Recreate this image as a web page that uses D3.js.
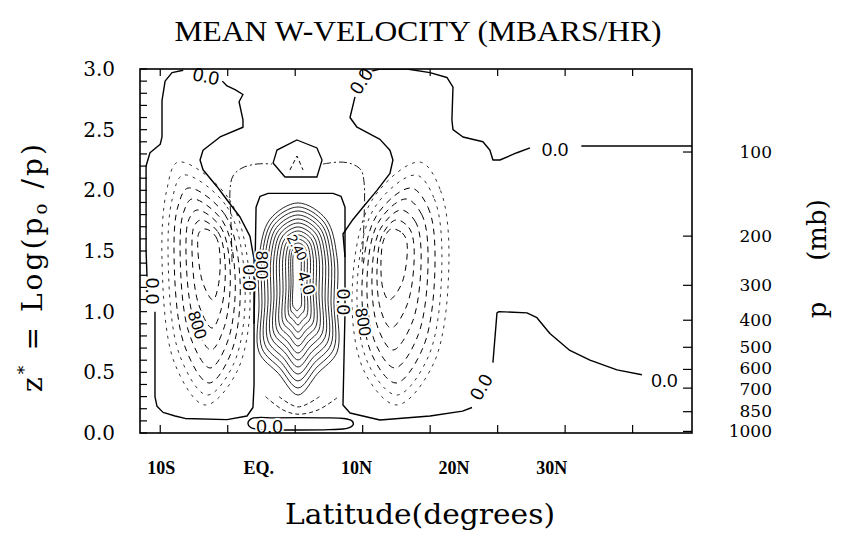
<!DOCTYPE html>
<html><head><meta charset="utf-8">
<script src="https://cdn.jsdelivr.net/npm/d3@7"></script>
<style>body{margin:0;background:#fff}svg{display:block}</style>
</head><body>
<svg id="c" width="848" height="541"></svg>
<script>
// ---------------- DATA ----------------
const latTicks = [-10, -5, 0, 5, 10, 15, 20, 25];
const latLabels = ["10S", "EQ.", "10N", "20N", "30N"];
const zTicks = [0, 0.5, 1, 1.5, 2, 2.5, 3];
const pLevels = [100, 200, 300, 400, 500, 600, 700, 850, 1000];
const pLabelNudge = [0, 0, 0, 0, 0, -1, 1, -1, 0];
const p0 = 1013.25;

// zero contours, polylines of [lat, z*]
const zeroLeftA = [[-5.4,2.90],[-5.05,2.86],[-4.46,2.83],[-3.87,2.79],[-4.16,2.73],[-3.87,2.58],[-3.87,2.52],[-5.57,2.44],[-6.83,2.33],[-7.05,2.25],[-6.83,2.17],[-5.79,2.03],[-5.05,1.92],[-4.09,1.78],[-3.35,1.62],[-3.05,1.43],[-3.05,1.10],[-3.05,0.40],[-3.13,0.21],[-3.57,0.14],[-5.05,0.11],[-8.16,0.12],[-8.90,0.14],[-9.79,0.17],[-10.24,0.22],[-10.39,0.30],[-10.39,1.0]];
const zeroLeftB = [[-10.98,1.29],[-11.05,1.5],[-11.05,2.2],[-10.76,2.31],[-10.0,2.38],[-9.87,2.44],[-9.87,2.74],[-9.64,2.90],[-9.13,2.97],[-8.3,2.99]];
const zeroBox = [[-3.05,0.9],[-2.90,1.86],[-2.61,1.95],[-2.0,1.975],[2.80,1.975],[3.4,1.95],[3.69,1.86],[3.69,1.0],[3.54,0.231],[4.06,0.165],[6.28,0.107],[9.99,0.14],[12.4,0.18],[13.1,0.21]];
const zeroFar = [[14.65,0.58],[14.95,0.99],[15.1,1.0],[17.17,0.99],[17.91,0.95],[18.87,0.82],[20.35,0.68],[21.84,0.60],[23.84,0.52],[25.69,0.48]];
const zeroRightA = [[4.43,2.77],[4.06,2.60],[4.58,2.52],[6.28,2.42],[7.02,2.33],[7.24,2.25],[7.02,2.14],[6.06,2.00],[5.02,1.86],[4.28,1.76],[3.54,1.64],[3.69,1.45]];
const zeroRightB = [[5.6,2.98],[6.28,3.0],[8.28,3.0],[9.99,2.97],[11.24,2.93],[11.69,2.85],[11.61,2.58],[11.69,2.50],[12.43,2.44],[13.91,2.40],[14.43,2.33],[14.65,2.25],[15.17,2.25],[16.43,2.31],[17.4,2.35]];
const zeroRightC = [[21.2,2.365],[29.4,2.365]];
const zeroBottom = [[-3.5,0.08],[-3.2,0.12],[-1.5,0.125],[2.0,0.125],[3.6,0.12],[4.2,0.10],[4.3,0.07],[3.9,0.04],[2.5,0.028],[0,0.025],[-2.5,0.028],[-3.3,0.045]];
const pentagon = [[0.13,2.415],[1.61,2.349],[1.99,2.250],[1.61,2.110],[-0.76,2.110],[-1.64,2.225],[-1.35,2.332]];
const pentInner = [[-0.39,2.168],[0.13,2.283],[0.58,2.168]];
const archLeft = [[-4.68,1.409],[-4.76,1.756],[-4.83,2.003],[-4.61,2.118],[-3.94,2.184],[-2.83,2.217],[-1.72,2.217]];
const archRight = [[2.06,2.217],[3.32,2.233],[4.21,2.217],[4.87,2.168],[5.10,2.069],[5.10,1.756],[4.95,1.409]];
const smiles = [
  [[-2.2,0.300],[-0.90,0.190],[0.21,0.155],[1.69,0.190],[3.1,0.290]],
  [[-1.2,0.300],[0.21,0.215],[1.8,0.300]]
];

// core (solid) contours: side latitudes, top and bottom-vertex heights
const coreLeft   = [-2.68,-2.46,-2.24,-2.01,-1.79,-1.57,-1.35,-1.13,-0.90,-0.68,-0.46,-0.31,-0.16];
const coreRight  = [3.10,2.87,2.65,2.43,2.21,1.99,1.76,1.54,1.32,1.10,0.87,0.65,0.43];
const coreTop    = [1.896,1.863,1.830,1.797,1.764,1.731,1.698,1.665,1.632,1.599,1.566,1.533,1.500];
const coreVertex = [0.313,0.371,0.429,0.486,0.544,0.602,0.659,0.717,0.775,0.832,0.890,0.948,1.006];

// dashed lobes: [topLat, topZ, rightLat, rightZ, bottomLat, bottomZ, leftLat, leftZ]
const lobeLeft = [
  [-8.68,2.233,-3.35,1.179,-6.68,0.231,-9.87,1.426],
  [-8.31,2.126,-3.72,1.220,-6.53,0.313,-9.42,1.467],
  [-7.94,2.019,-4.09,1.261,-6.39,0.412,-8.98,1.508],
  [-7.64,1.929,-4.46,1.302,-6.31,0.536,-8.53,1.549],
  [-7.27,1.838,-4.83,1.360,-6.24,0.684,-8.09,1.591],
  [-6.98,1.756,-5.20,1.409,-6.16,0.865,-7.64,1.607],
  [-6.61,1.681,-5.57,1.459,-6.09,1.096,-7.20,1.624]
];
const lobeRight = [
  [9.24,2.233,11.39,1.426,7.54,0.231,4.21,1.137],
  [8.95,2.126,10.87,1.442,7.54,0.313,4.58,1.179],
  [8.58,2.019,10.36,1.467,7.47,0.412,4.95,1.220],
  [8.21,1.929,9.84,1.492,7.39,0.536,5.32,1.261],
  [7.84,1.838,9.32,1.516,7.24,0.684,5.69,1.302],
  [7.47,1.756,8.80,1.541,7.10,0.865,6.06,1.343],
  [7.10,1.681,8.28,1.566,6.95,1.096,6.35,1.385]
];

// contour labels: [text, lat, z, angle]
const contourLabels = [
  ["0.0", -6.6, 2.94, 12],
  ["0.0", 4.9, 2.90, -58],
  ["0.0", 19.25, 2.335, 0],
  ["0.0", -10.55, 1.17, 90],
  ["0.0", -3.42, 1.28, 90],
  ["800", -2.53, 1.385, 90],
  ["800", -7.27, 0.89, 72],
  ["0.0", 3.61, 1.08, 90],
  ["800", 5.02, 0.915, 80],
  ["2.40", 0.15, 1.53, 62],
  ["4.0", 0.80, 1.236, 70],
  ["0.0", 13.78, 0.379, -60],
  ["0.0", 27.35, 0.43, 0],
  ["0.0", -1.9, 0.05, 0]
];

// ---------------- DRAWING ----------------
const svg = d3.select("#c");
const x = d3.scaleLinear().domain([-11.5, 29.4]).range([140, 692]);
const y = d3.scaleLinear().domain([0, 3]).range([433, 69]);
const kx = x(1) - x(0), ky = y(0) - y(1);
const line = d3.line().x(d => x(d[0])).y(d => y(d[1]));
const closed = d3.line().x(d => x(d[0])).y(d => y(d[1])).curve(d3.curveCatmullRomClosed.alpha(0.5));
const smooth = d3.line().x(d => x(d[0])).y(d => y(d[1])).curve(d3.curveCatmullRom.alpha(0.5));

svg.append("defs").append("clipPath").attr("id", "clip")
  .append("rect").attr("x", 140).attr("y", 69).attr("width", 552).attr("height", 364);

const g = svg.append("g").attr("clip-path", "url(#clip)");

function quad(V, Hh, f) { return [Hh[0] + f * (V[0] - Hh[0]), V[1] + f * (Hh[1] - V[1])]; }
function shape(T, R, B, L, fu, fl) {
  return [T, quad(T, R, fu), R, quad(B, R, fl), B, quad(B, L, fl), L, quad(T, L, fu)];
}

// zero & other solid lines
[zeroLeftA, zeroLeftB, zeroBox, zeroFar, zeroRightA, zeroRightB, zeroRightC].forEach(d => {
  g.append("path").attr("d", line(d)).attr("fill", "none").attr("stroke", "#000").attr("stroke-width", 1.4).attr("stroke-linejoin", "round");
});
g.append("path").attr("d", closed(zeroBottom)).attr("fill", "none").attr("stroke", "#000").attr("stroke-width", 1.4);
g.append("path").attr("d", line(pentagon) + "Z").attr("fill", "none").attr("stroke", "#000").attr("stroke-width", 1.3);
g.append("path").attr("d", line(pentInner)).attr("fill", "none").attr("stroke", "#000").attr("stroke-width", 1).attr("stroke-dasharray", "4,3");
[archLeft, archRight].forEach(d => {
  g.append("path").attr("d", smooth(d)).attr("fill", "none").attr("stroke", "#000").attr("stroke-width", 0.9).attr("stroke-dasharray", "8,3,2,3");
});
smiles.forEach(d => {
  g.append("path").attr("d", smooth(d)).attr("fill", "none").attr("stroke", "#000").attr("stroke-width", 0.9).attr("stroke-dasharray", "4,3");
});

// core: arched top, straight sides, V-shaped bottom
coreTop.forEach((t, i) => {
  const L = coreLeft[i], R = coreRight[i], c = (L + R) / 2, hw = (R - L) / 2, v = coreVertex[i];
  const rv = hw * kx * 1.4 / ky;          // vertical radius of the arched top
  const arm = hw * kx * 1.1 / ky;         // height of V arms
  const zs = t - rv, zc = v + arm;
  const pts = [
    [c, t], [c + 0.72 * hw, t - 0.3 * rv], [R, zs], [R, (zs + zc) / 2], [R, zc],
    [c + 0.5 * hw, v + 0.5 * arm], [c, v], [c - 0.5 * hw, v + 0.5 * arm],
    [L, zc], [L, (zs + zc) / 2], [L, zs], [c - 0.72 * hw, t - 0.3 * rv]
  ];
  g.append("path").attr("d", closed(pts)).attr("fill", "none").attr("stroke", "#000").attr("stroke-width", 0.85);
});

// lobes
[lobeLeft, lobeRight].forEach(lobe => lobe.forEach((r, i) => {
  const pts = shape([r[0], r[1]], [r[2], r[3]], [r[4], r[5]], [r[6], r[7]], 0.29, 0.29);
  g.append("path").attr("d", closed(pts)).attr("fill", "none").attr("stroke", "#000")
    .attr("stroke-width", i < 2 ? 0.8 : 1.0).attr("stroke-dasharray", i < 2 ? "3,5" : "6,5");
}));

// contour labels
contourLabels.forEach(([t, la, z, a]) => {
  const big = t === "0.0";
  svg.append("text").attr("transform", `translate(${x(la)},${y(z)}) rotate(${a})`)
    .attr("text-anchor", "middle").attr("dominant-baseline", "central")
    .attr("font-family", "Liberation Sans, Arial, sans-serif")
    .attr("font-size", big ? 19 : (t.length > 3 ? 14 : 17))
    .attr("stroke", "#fff").attr("stroke-width", 4).attr("paint-order", "stroke")
    .attr("fill", "#000").text(t);
});

// frame
svg.append("rect").attr("x", 140).attr("y", 69).attr("width", 552).attr("height", 364)
  .attr("fill", "none").attr("stroke", "#000").attr("stroke-width", 1.6);

// ticks
const tk = svg.append("g").attr("stroke", "#000").attr("stroke-width", 1.2);
latTicks.forEach(v => {
  tk.append("line").attr("x1", x(v)).attr("x2", x(v)).attr("y1", 69).attr("y2", 76);
  tk.append("line").attr("x1", x(v)).attr("x2", x(v)).attr("y1", 433).attr("y2", 425);
});
y.ticks(30).forEach(v => {
  tk.append("line").attr("x1", 140).attr("x2", 147).attr("y1", y(v)).attr("y2", y(v));
});
pLevels.forEach(p => {
  const z = Math.log(p0 / p);
  tk.append("line").attr("x1", 692).attr("x2", 683).attr("y1", y(z)).attr("y2", y(z));
});

// tick labels
const serif = "DejaVu Serif, serif";
zTicks.forEach(v => {
  svg.append("text").attr("x", 115).attr("y", y(v)).attr("text-anchor", "end")
    .attr("dominant-baseline", "central").attr("font-family", serif).attr("font-size", 20)
    .text(d3.format(".1f")(v));
});
pLevels.forEach((p, i) => {
  const z = Math.log(p0 / p);
  svg.append("text").attr("x", 772).attr("y", y(z) + pLabelNudge[i]).attr("text-anchor", "end")
    .attr("dominant-baseline", "central").attr("font-family", serif).attr("font-size", 17)
    .text(p);
});
const xl = d3.scalePoint().domain(latLabels).range([x(-10) + 1, x(19)]);
latLabels.forEach(l => {
  svg.append("text").attr("x", xl(l)).attr("y", 474).attr("text-anchor", "middle")
    .attr("font-family", "Liberation Serif, serif").attr("font-weight", "bold").attr("font-size", 18).text(l);
});

// titles
svg.append("text").attr("x", 418).attr("y", 41).attr("text-anchor", "middle")
  .attr("font-family", "Liberation Serif, serif").attr("font-size", 29)
  .attr("textLength", 487).attr("lengthAdjust", "spacingAndGlyphs")
  .text("MEAN W-VELOCITY (MBARS/HR)");
svg.append("text").attr("x", 420).attr("y", 524).attr("text-anchor", "middle")
  .attr("font-family", serif).attr("font-size", 27)
  .attr("textLength", 270).attr("lengthAdjust", "spacingAndGlyphs")
  .text("Latitude(degrees)");

const lt = svg.append("text").attr("transform", "translate(42,268) rotate(-90)")
  .attr("text-anchor", "middle").attr("font-family", serif).attr("font-size", 28)
  .attr("textLength", 248).attr("lengthAdjust", "spacing");
lt.append("tspan").text("z");
lt.append("tspan").attr("font-size", 17).attr("dy", -12).text("*");
lt.append("tspan").attr("dy", 12).text(" = Log(p");
lt.append("tspan").attr("font-size", 18).attr("dy", 5).text("o");
lt.append("tspan").attr("dy", -5).text(" /p)");

svg.append("text").attr("transform", "translate(826,310) rotate(-90)")
  .attr("text-anchor", "middle").attr("font-family", serif).attr("font-size", 26).text("p");
svg.append("text").attr("transform", "translate(826,230) rotate(-90)")
  .attr("text-anchor", "middle").attr("font-family", serif).attr("font-size", 26).text("(mb)");
</script>
</body></html>
